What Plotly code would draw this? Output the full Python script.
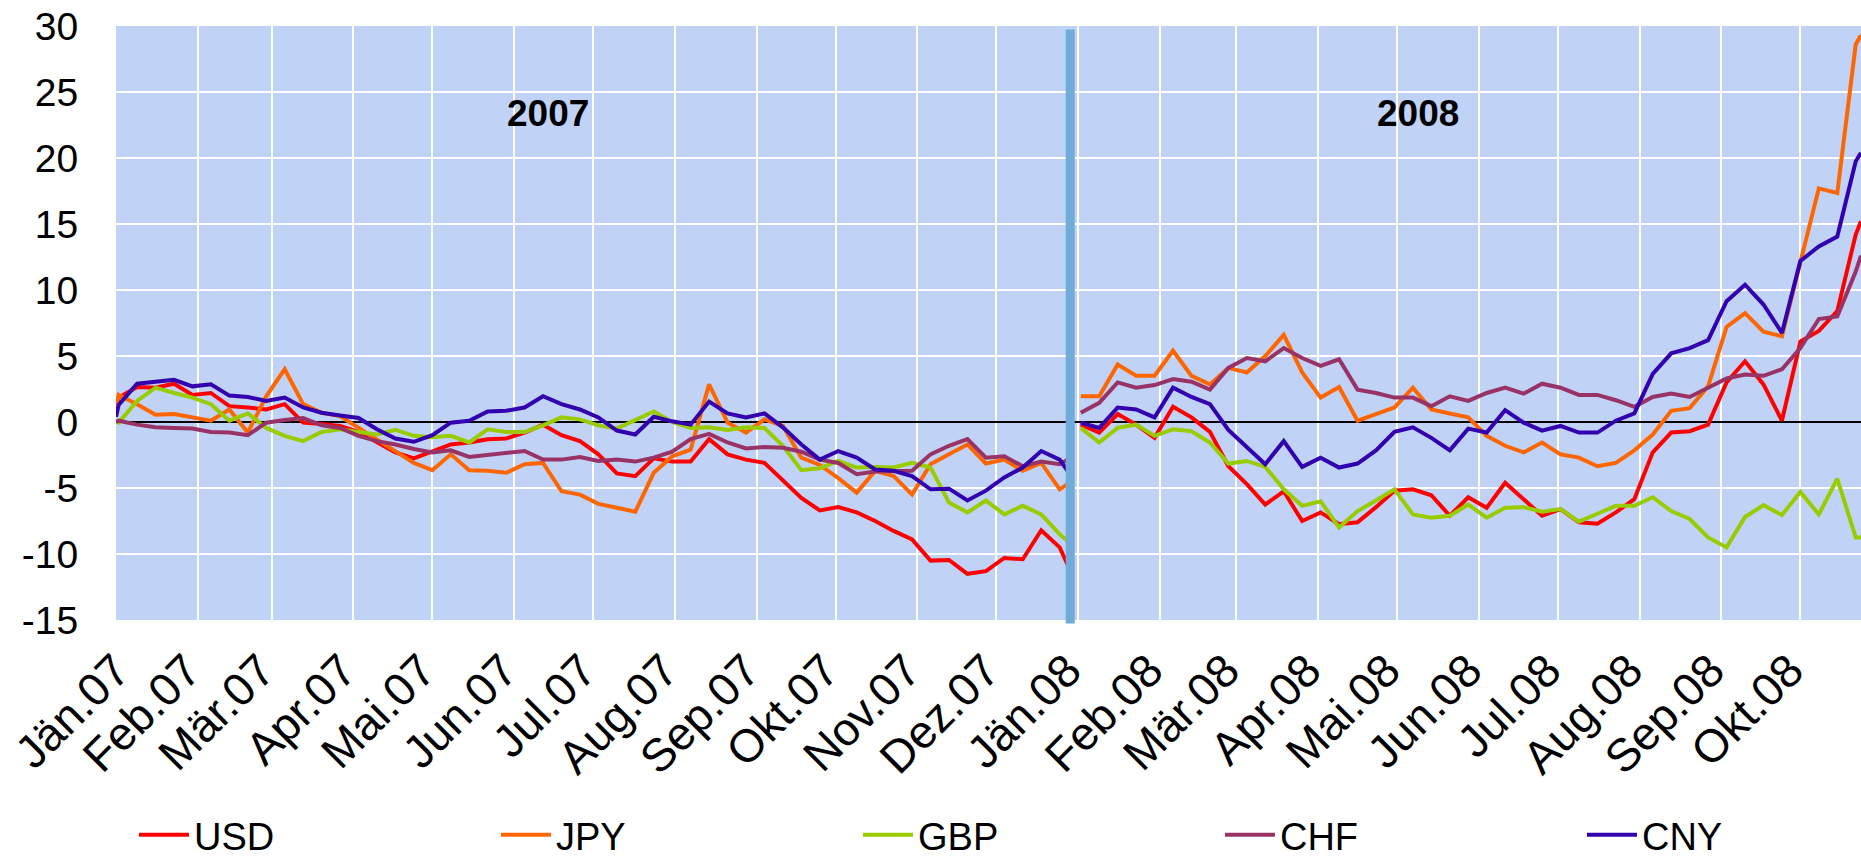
import pandas as pd
import plotly.graph_objects as go

# ---- data (percent change vs. start of year) ----
dates_2007 = (["2007-01-01"]
              + [d.strftime("%Y-%m-%d") for d in pd.date_range("2007-01-02", periods=52, freq="7D")]
              + ["2007-12-28"])
dates_2008 = ([d.strftime("%Y-%m-%d") for d in pd.date_range("2008-01-02", periods=43, freq="7D")]
              + ["2008-10-24"])

usd_2007 = [1.0, 1.85, 2.65, 2.6, 2.9, 2.05, 2.2, 1.2, 1.1, 0.95, 1.35,
            -0.05, -0.15, -0.3, -0.75, -1.55, -2.3, -2.75, -2.25, -1.7, -1.55,
            -1.3, -1.25, -0.8, -0.2, -1.0, -1.45, -2.45, -3.9, -4.1, -2.75,
            -3.0, -3.0, -1.3, -2.45, -2.85, -3.1, -4.45, -5.75, -6.7, -6.45,
            -6.85, -7.5, -8.25, -8.9, -10.5, -10.45, -11.5, -11.3, -10.3, -10.4,
            -8.2, -9.5, -10.8]
jpy_2007 = [1.0, 2.05, 1.35, 0.55, 0.6, 0.35, 0.1, 0.95, -0.8, 1.95, 4.0,
            1.35, 0.7, 0.45, -0.45, -1.3, -2.2, -3.1, -3.65, -2.45, -3.65,
            -3.7, -3.85, -3.2, -3.1, -5.25, -5.5, -6.2, -6.5, -6.8, -3.85,
            -2.6, -2.1, 2.85, -0.05, -0.8, 0.2, -0.3, -2.7, -3.25, -4.25,
            -5.35, -3.7, -4.1, -5.5, -3.2, -2.45, -1.7, -3.15, -2.85, -3.7,
            -3.1, -5.1, -4.7]
gbp_2007 = [0.0, -0.05, 1.6, 2.6, 2.2, 1.85, 1.35, 0.1, 0.65, -0.45, -1.05,
            -1.45, -0.75, -0.55, -0.75, -0.95, -0.6, -1.05, -1.15, -1.05, -1.55,
            -0.55, -0.75, -0.75, -0.25, 0.35, 0.2, -0.25, -0.5, 0.15, 0.8,
            0.0, -0.45, -0.4, -0.6, -0.4, -0.45, -1.8, -3.65, -3.5, -2.95,
            -3.45, -3.4, -3.45, -3.1, -3.45, -6.1, -6.85, -5.95, -7.0, -6.35,
            -7.0, -8.5, -9.0]
chf_2007 = [0.0, 0.1, -0.2, -0.4, -0.45, -0.5, -0.75, -0.8, -1.0, -0.05, 0.15,
            0.3, -0.25, -0.45, -1.05, -1.45, -1.7, -2.05, -2.3, -2.15, -2.65,
            -2.5, -2.35, -2.2, -2.85, -2.85, -2.65, -2.95, -2.85, -3.0, -2.7,
            -2.25, -1.3, -0.9, -1.55, -2.0, -1.9, -1.95, -2.25, -2.85, -3.1,
            -3.95, -3.75, -3.75, -3.7, -2.45, -1.8, -1.3, -2.7, -2.6, -3.35,
            -3.0, -3.2, -2.85]
cny_2007 = [0.4, 1.3, 2.9, 3.05, 3.2, 2.7, 2.85, 2.0, 1.9, 1.6, 1.85,
            1.1, 0.7, 0.5, 0.3, -0.55, -1.25, -1.5, -1.0, -0.05, 0.1,
            0.8, 0.85, 1.1, 1.95, 1.35, 0.95, 0.35, -0.65, -0.95, 0.4,
            0.05, -0.2, 1.55, 0.65, 0.35, 0.65, -0.4, -1.7, -2.85, -2.2,
            -2.7, -3.6, -3.7, -4.1, -5.1, -5.05, -5.95, -5.2, -4.2, -3.45,
            -2.2, -2.85, -3.7]

usd_2008 = [-0.2, -0.8, 0.6, -0.2, -1.2, 1.15, 0.35, -0.75, -3.35, -4.7,
            -6.25, -5.25, -7.5, -6.85, -7.75, -7.6, -6.45, -5.2, -5.1, -5.55,
            -7.1, -5.7, -6.5, -4.6, -5.85, -7.1, -6.6, -7.6, -7.7, -6.85,
            -5.85, -2.3, -0.8, -0.7, -0.2, 3.0, 4.6, 2.85, 0.1, 6.1,
            6.9, 8.4, 14.2, 15.2]
jpy_2008 = [1.95, 1.95, 4.35, 3.5, 3.5, 5.4, 3.5, 2.85, 4.1, 3.75,
            5.0, 6.6, 3.75, 1.85, 2.65, 0.1, 0.6, 1.1, 2.6, 0.95,
            0.65, 0.35, -1.05, -1.8, -2.3, -1.55, -2.45, -2.7, -3.35, -3.1,
            -2.15, -0.95, 0.85, 1.05, 2.7, 7.2, 8.25, 6.85, 6.5, 12.05,
            17.7, 17.35, 28.6, 29.3]
gbp_2008 = [-0.45, -1.55, -0.45, -0.2, -1.05, -0.55, -0.7, -1.55, -3.15, -2.95,
            -3.4, -5.1, -6.35, -6.0, -8.0, -6.75, -5.95, -5.1, -7.0, -7.25,
            -7.1, -6.25, -7.25, -6.5, -6.45, -6.8, -6.6, -7.55, -6.95, -6.35,
            -6.35, -5.7, -6.75, -7.35, -8.75, -9.5, -7.2, -6.3, -7.05, -5.3,
            -7.0, -4.3, -8.75, -8.75]
chf_2008 = [0.7, 1.45, 3.0, 2.6, 2.8, 3.25, 3.05, 2.45, 4.1, 4.85,
            4.6, 5.6, 4.85, 4.25, 4.75, 2.45, 2.2, 1.85, 1.85, 1.2,
            1.95, 1.6, 2.2, 2.6, 2.15, 2.9, 2.6, 2.05, 2.05, 1.65,
            1.15, 1.9, 2.15, 1.9, 2.6, 3.3, 3.6, 3.5, 4.0, 5.6,
            7.8, 8.0, 11.4, 12.6]
cny_2008 = [-0.05, -0.45, 1.1, 0.95, 0.35, 2.6, 1.9, 1.35, -0.6, -1.95,
            -3.2, -1.45, -3.4, -2.7, -3.45, -3.15, -2.15, -0.75, -0.4, -1.2,
            -2.15, -0.5, -0.8, 0.9, -0.05, -0.65, -0.3, -0.8, -0.8, 0.1,
            0.65, 3.65, 5.2, 5.6, 6.2, 9.15, 10.4, 8.9, 6.75, 12.2,
            13.3, 14.05, 19.75, 20.4]

currencies = ["USD", "JPY", "GBP", "CHF", "CNY"]
series_2007 = [usd_2007, jpy_2007, gbp_2007, chf_2007, cny_2007]
series_2008 = [usd_2008, jpy_2008, gbp_2008, chf_2008, cny_2008]
colors = ["#FF0000", "#FF6600", "#99CC00", "#993366", "#3300B0"]

month_starts = pd.date_range("2007-01-01", "2008-10-01", freq="MS")
grid_vals = [d.strftime("%Y-%m-%d") for d in month_starts]
# labels sit slightly left of their month gridline, as in the original
# (the first one stays at the axis start so it is not dropped)
label_vals = ["2007-01-01"] + [(d - pd.Timedelta(days=4)).strftime("%Y-%m-%d") for d in month_starts[1:]]
tick_text = ["Jän.07", "Feb.07", "Mär.07", "Apr.07", "Mai.07", "Jun.07", "Jul.07", "Aug.07",
             "Sep.07", "Okt.07", "Nov.07", "Dez.07", "Jän.08", "Feb.08", "Mär.08", "Apr.08",
             "Mai.08", "Jun.08", "Jul.08", "Aug.08", "Sep.08", "Okt.08"]
y_vals = [-15, -10, -5, 0, 5, 10, 15, 20, 25, 30]
y_text = ["-15", "-10", "-5", "0", "5", "10", "15", "20", "25", "30"]

FONT = "Liberation Sans, Arial, sans-serif"

fig = go.Figure()
for name, s07, s08, col in zip(currencies, series_2007, series_2008, colors):
    fig.add_trace(go.Scatter(
        x=dates_2007 + [None] + dates_2008,
        y=s07 + [None] + s08,
        mode="lines", name=name,
        line=dict(color=col, width=4),
        connectgaps=False,
    ))

fig.add_shape(type="line", xref="x", yref="paper",
              x0="2007-12-29", x1="2007-12-29", y0=-0.006, y1=0.994,
              line=dict(color="#70ABD9", width=9), layer="above")

fig.add_annotation(x="2007-06-14", y=23.4, text="<b>2007</b>", showarrow=False,
                   font=dict(family=FONT, size=37, color="black"))
fig.add_annotation(x="2008-05-09", y=23.4, text="<b>2008</b>", showarrow=False,
                   font=dict(family=FONT, size=37, color="black"))

fig.update_layout(
    width=1861, height=857,
    margin=dict(l=116, r=0, t=26, b=237, autoexpand=False),
    paper_bgcolor="white",
    plot_bgcolor="#C0D3F7",
    font=dict(family=FONT, size=38, color="black"),
    showlegend=True,
    legend=dict(orientation="h", x=-0.00001, xanchor="left", y=-0.362, yanchor="middle",
                font=dict(size=38), entrywidth=279, entrywidthmode="pixels",
                itemwidth=50, indentation=18, bgcolor="rgba(0,0,0,0)"),
    xaxis=dict(type="date", range=["2007-01-01", "2008-10-24"], automargin=False,
               tickmode="array", tickvals=label_vals, ticktext=tick_text,
               tickangle=-45, tickfont=dict(size=46),
               ticks="outside", ticklen=4, tickcolor="rgba(0,0,0,0)",
               showgrid=False, showline=False, zeroline=False,
               minor=dict(tickmode="array", tickvals=grid_vals, showgrid=True,
                          gridcolor="white", gridwidth=2, ticks="")),
    yaxis=dict(range=[-15, 30], automargin=False,
               tickmode="array", tickvals=y_vals, ticktext=y_text,
               tickfont=dict(size=39),
               ticks="outside", ticklen=29, tickcolor="rgba(0,0,0,0)",
               showgrid=True, gridcolor="white", gridwidth=2,
               zeroline=True, zerolinecolor="black", zerolinewidth=1.5,
               showline=False),
)

fig.write_html("out.html", config={"displayModeBar": False},
               post_script="document.body.style.margin='0';document.body.style.overflow='hidden';")
